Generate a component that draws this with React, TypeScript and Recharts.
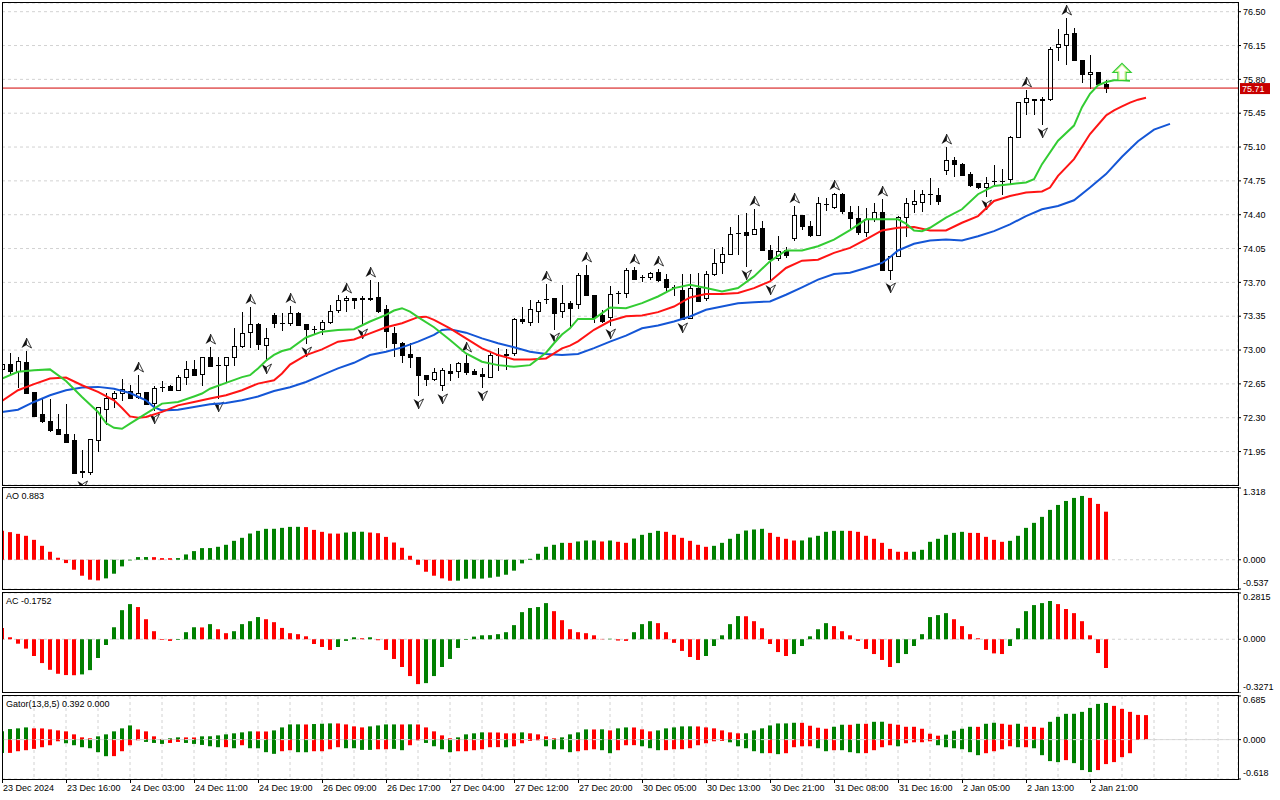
import React from 'react';
import {
  ComposedChart,
  Bar,
  Line,
  XAxis,
  YAxis,
  CartesianGrid,
  ReferenceLine,
  ReferenceDot,
  Cell,
} from 'recharts';

const FONT = '"Liberation Sans", Arial, Helvetica, sans-serif';
const GREEN = '#008000';
const RED = '#ff0000';
const GRID = '#d2d2d2';
const JAW = '#1456d6';
const TEETH = '#ff1414';
const LIPS = '#33cc33';

// ---------- data ----------
const timeLabels = [
  '23 Dec 2024', '23 Dec 16:00', '24 Dec 03:00', '24 Dec 11:00', '24 Dec 19:00', '26 Dec 09:00',
  '26 Dec 17:00', '27 Dec 04:00', '27 Dec 12:00', '27 Dec 20:00', '30 Dec 05:00', '30 Dec 13:00',
  '30 Dec 21:00', '31 Dec 08:00', '31 Dec 16:00', '2 Jan 05:00', '2 Jan 13:00', '2 Jan 21:00',
];

const priceTicks = [71.95, 72.3, 72.65, 73.0, 73.35, 73.7, 74.05, 74.4, 74.75, 75.1, 75.45, 75.8, 76.15, 76.5];
const lastPrice = 75.71;
const signalBar = 140;
const signalPrice = 75.79;

// open, high, low, close — one per hourly bar
const candles: [number, number, number, number][] = [
  [72.80, 72.90, 72.76, 72.86], [72.86, 72.965, 72.74, 72.785], [72.785, 72.924, 72.62, 72.882], [72.875, 72.993, 72.556, 72.556],
  [72.57, 72.57, 72.317, 72.317], [72.335, 72.498, 72.255, 72.262], [72.269, 72.498, 72.161, 72.168], [72.179, 72.342, 72.127, 72.127],
  [72.127, 72.439, 72.047, 72.047], [72.071, 72.134, 71.732, 71.732], [71.745, 71.967, 71.683, 71.74], [71.739, 72.075, 71.718, 72.075],
  [72.071, 72.411, 71.96, 72.411], [72.394, 72.56, 72.238, 72.508], [72.508, 72.577, 72.411, 72.56], [72.56, 72.705, 72.48, 72.60],
  [72.577, 72.636, 72.508, 72.508], [72.515, 72.74, 72.508, 72.56], [72.57, 72.57, 72.439, 72.439], [72.453, 72.626, 72.376, 72.605],
  [72.619, 72.681, 72.577, 72.621], [72.626, 72.636, 72.584, 72.584], [72.591, 72.74, 72.584, 72.723], [72.723, 72.889, 72.653, 72.799],
  [72.799, 72.896, 72.74, 72.74], [72.75, 72.931, 72.636, 72.924], [72.924, 73.028, 72.834, 72.834], [72.844, 72.931, 72.50, 72.846],
  [72.844, 72.924, 72.67, 72.924], [72.924, 73.225, 72.844, 73.042], [73.042, 73.398, 73.035, 73.173], [73.187, 73.45, 73.035, 73.267],
  [73.267, 73.277, 73.007, 73.062], [73.052, 73.225, 72.896, 73.121], [73.364, 73.381, 73.243, 73.277], [73.28, 73.381, 73.208, 73.284],
  [73.277, 73.457, 73.256, 73.388], [73.388, 73.398, 73.256, 73.26], [73.27, 73.27, 73.076, 73.215], [73.215, 73.25, 73.18, 73.218],
  [73.215, 73.312, 73.166, 73.291], [73.291, 73.468, 73.277, 73.409], [73.416, 73.572, 73.398, 73.52], [73.52, 73.561, 73.409, 73.54],
  [73.537, 73.537, 73.433, 73.52], [73.533, 73.554, 73.26, 73.536], [73.53, 73.72, 73.52, 73.54], [73.547, 73.70, 73.398, 73.409],
  [73.423, 73.468, 73.035, 73.201], [73.18, 73.243, 72.938, 73.076], [73.069, 73.087, 72.879, 72.948], [72.955, 73.069, 72.82, 72.924],
  [72.924, 72.924, 72.532, 72.74], [72.74, 72.74, 72.636, 72.705], [72.705, 72.81, 72.688, 72.775], [72.636, 72.81, 72.584, 72.792],
  [72.785, 72.854, 72.688, 72.764], [72.785, 72.879, 72.723, 72.868], [72.868, 72.948, 72.757, 72.775], [72.782, 72.80, 72.75, 72.757],
  [72.75, 72.81, 72.62, 72.73], [72.723, 72.965, 72.723, 72.948], [72.95, 73.017, 72.792, 72.952], [72.95, 73.01, 72.80, 72.96],
  [72.965, 73.329, 72.948, 73.319], [73.319, 73.45, 73.277, 73.30], [73.295, 73.52, 73.26, 73.423], [73.409, 73.52, 73.295, 73.502],
  [73.527, 73.686, 73.485, 73.529], [73.537, 73.537, 73.215, 73.381], [73.409, 73.676, 73.34, 73.485], [73.485, 73.509, 73.243, 73.433],
  [73.475, 73.797, 73.44, 73.78], [73.773, 73.88, 73.565, 73.565], [73.565, 73.565, 73.295, 73.347], [73.364, 73.416, 73.295, 73.30],
  [73.347, 73.658, 73.26, 73.579], [73.59, 73.613, 73.485, 73.592], [73.59, 73.849, 73.544, 73.832], [73.832, 73.86, 73.738, 73.738],
  [73.752, 73.78, 73.71, 73.754], [73.752, 73.807, 73.738, 73.797], [73.807, 73.84, 73.717, 73.728], [73.738, 73.787, 73.624, 73.648],
  [73.648, 73.675, 73.565, 73.65], [73.624, 73.787, 73.322, 73.322], [73.336, 73.787, 73.336, 73.641], [73.641, 73.797, 73.509, 73.509],
  [73.537, 73.814, 73.52, 73.787], [73.787, 74.05, 73.78, 73.90], [73.911, 74.064, 73.797, 73.994], [73.994, 74.27, 73.99, 74.20],
  [74.21, 74.396, 73.99, 74.212], [74.22, 74.42, 73.866, 74.195], [74.20, 74.455, 74.20, 74.247], [74.258, 74.334, 74.03, 74.03],
  [74.04, 74.09, 73.717, 73.946], [73.953, 74.18, 73.935, 74.022], [74.03, 74.064, 73.96, 73.988], [74.154, 74.49, 74.14, 74.396],
  [74.396, 74.396, 74.247, 74.282], [74.282, 74.334, 74.178, 74.188], [74.188, 74.584, 74.188, 74.525], [74.51, 74.57, 74.445, 74.512],
  [74.48, 74.628, 74.473, 74.618], [74.61, 74.629, 74.42, 74.435], [74.431, 74.49, 74.265, 74.369], [74.362, 74.49, 74.196, 74.224],
  [74.224, 74.473, 74.178, 74.352], [74.352, 74.525, 74.334, 74.431], [74.431, 74.56, 73.832, 73.832], [73.832, 73.97, 73.738, 73.97],
  [73.97, 74.386, 73.97, 74.376], [74.376, 74.577, 74.178, 74.525], [74.515, 74.653, 74.431, 74.542], [74.535, 74.653, 74.438, 74.612],
  [74.612, 74.778, 74.508, 74.61], [74.605, 74.674, 74.508, 74.542], [74.861, 75.097, 74.826, 74.965], [74.965, 75.0, 74.802, 74.923],
  [74.923, 74.93, 74.81, 74.81], [74.826, 74.837, 74.698, 74.709], [74.733, 74.733, 74.674, 74.688], [74.691, 74.785, 74.594, 74.726],
  [74.744, 74.916, 74.709, 74.746], [74.75, 74.87, 74.61, 74.752], [74.767, 75.218, 74.722, 75.208], [75.208, 75.565, 75.208, 75.565],
  [75.565, 75.686, 75.443, 75.61], [75.60, 75.60, 75.443, 75.582], [75.582, 75.617, 75.34, 75.60], [75.596, 76.13, 75.589, 76.119],
  [76.13, 76.316, 76.005, 76.164], [76.153, 76.43, 75.956, 76.268], [76.275, 76.327, 76.005, 76.005], [76.005, 76.005, 75.772, 75.852],
  [75.852, 76.05, 75.713, 75.876], [75.876, 75.876, 75.755, 75.755], [75.748, 75.796, 75.668, 75.71],
];

const fractalUp = [3, 17, 26, 31, 36, 43, 46, 58, 68, 73, 79, 82, 94, 99, 104, 110, 118, 128, 133];
const fractalDown = [10, 19, 27, 33, 38, 45, 52, 55, 60, 69, 76, 85, 93, 96, 111, 123, 130];

// Alligator lines: [bar, price]
const jaw: [number, number][] = [
  [0, 72.359], [2, 72.383], [4, 72.463], [6, 72.532], [8, 72.584], [10, 72.612], [12, 72.619], [14, 72.6], [16, 72.556],
  [18, 72.48], [19, 72.41], [20, 72.376], [22, 72.383], [24, 72.41], [26, 72.44], [28, 72.453], [30, 72.48], [32, 72.52],
  [34, 72.577], [36, 72.615], [38, 72.67], [40, 72.74], [42, 72.81], [44, 72.868], [46, 72.948], [48, 72.983], [50, 73.028],
  [52, 73.087], [54, 73.156], [55, 73.208], [56, 73.215], [58, 73.18], [60, 73.121], [62, 73.07], [64, 73.028], [66, 72.983],
  [68, 72.958], [70, 72.948], [72, 72.96], [74, 73.02], [76, 73.087], [78, 73.149], [80, 73.225], [82, 73.253], [84, 73.295],
  [86, 73.347], [88, 73.416], [90, 73.45], [92, 73.485], [94, 73.495], [96, 73.502], [98, 73.572], [100, 73.648], [102, 73.728],
  [104, 73.787], [106, 73.8], [108, 73.849], [110, 73.901], [111, 73.96], [112, 74.03], [114, 74.099], [116, 74.133],
  [118, 74.144], [120, 74.133], [122, 74.178], [124, 74.23], [126, 74.3], [128, 74.386], [130, 74.456], [132, 74.49],
  [134, 74.549], [136, 74.681], [138, 74.82], [140, 75.0], [142, 75.16], [144, 75.28], [146, 75.34],
];
const teeth: [number, number][] = [
  [0, 72.473], [2, 72.584], [4, 72.647], [6, 72.705], [8, 72.716], [10, 72.636], [12, 72.567], [14, 72.48], [15, 72.4],
  [16, 72.314], [17, 72.3], [18, 72.307], [20, 72.36], [22, 72.428], [24, 72.463], [26, 72.498], [28, 72.532], [30, 72.584],
  [32, 72.653], [34, 72.688], [35, 72.757], [36, 72.85], [38, 72.948], [40, 73.007], [42, 73.087], [44, 73.11], [46, 73.173],
  [48, 73.236], [50, 73.277], [52, 73.34], [53, 73.345], [54, 73.312], [56, 73.225], [58, 73.121], [60, 73.017], [62, 72.948],
  [64, 72.903], [66, 72.903], [68, 72.913], [70, 73.017], [71, 73.045], [72, 73.09], [74, 73.21], [76, 73.3], [78, 73.35],
  [80, 73.357], [82, 73.392], [84, 73.45], [86, 73.544], [88, 73.579], [90, 73.579], [92, 73.59], [94, 73.641], [96, 73.71],
  [98, 73.849], [100, 73.925], [102, 73.935], [104, 74.005], [106, 74.057], [108, 74.144], [110, 74.237], [112, 74.265],
  [114, 74.272], [116, 74.237], [118, 74.237], [120, 74.317], [122, 74.386], [124, 74.542], [126, 74.594], [128, 74.629],
  [130, 74.64], [131, 74.681], [132, 74.802], [134, 74.975], [136, 75.235], [138, 75.426], [139, 75.48], [140, 75.52],
  [141, 75.56], [142, 75.59], [143, 75.61],
];
const lips: [number, number][] = [
  [0, 72.705], [2, 72.775], [4, 72.79], [6, 72.8], [8, 72.68], [10, 72.515], [12, 72.36], [13, 72.245], [14, 72.196],
  [15, 72.186], [16, 72.238], [18, 72.342], [20, 72.446], [22, 72.463], [24, 72.52], [25, 72.55], [26, 72.6], [28, 72.66],
  [30, 72.72], [31, 72.74], [32, 72.81], [33, 72.89], [34, 72.95], [35, 72.99], [36, 73.01], [38, 73.13], [40, 73.19],
  [42, 73.208], [44, 73.215], [46, 73.295], [48, 73.364], [49, 73.409], [50, 73.433], [51, 73.398], [52, 73.34], [54, 73.236],
  [56, 73.104], [58, 72.965], [60, 72.879], [62, 72.844], [64, 72.827], [66, 72.844], [68, 72.972], [69, 73.07], [70, 73.16],
  [71, 73.225], [72, 73.322], [74, 73.322], [76, 73.44], [78, 73.433], [80, 73.485], [82, 73.554], [84, 73.641], [86, 73.676],
  [88, 73.641], [90, 73.606], [92, 73.641], [94, 73.762], [96, 73.918], [98, 74.03], [100, 74.03], [102, 74.074], [104, 74.143],
  [106, 74.24], [108, 74.352], [110, 74.352], [112, 74.352], [113, 74.307], [114, 74.237], [115, 74.23], [116, 74.265],
  [118, 74.369], [120, 74.456], [122, 74.612], [124, 74.698], [126, 74.716], [128, 74.733], [129, 74.767], [130, 74.923],
  [132, 75.166], [134, 75.322], [135, 75.512], [136, 75.651], [137, 75.738], [138, 75.772], [139, 75.79], [140, 75.79],
  [141, 75.786],
];

// Awesome Oscillator: [value, colour]
const ao: [number, string][] = [
  [0.531, 'r'], [0.507, 'r'], [0.476, 'r'], [0.44, 'r'], [0.366, 'r'], [0.256, 'r'], [0.147, 'r'], [0.037, 'r'], [-0.061, 'r'], [-0.183, 'r'],
  [-0.293, 'r'], [-0.366, 'r'], [-0.379, 'r'], [-0.342, 'g'], [-0.256, 'g'], [-0.122, 'g'], [-0.012, 'g'], [0.049, 'g'], [0.05, 'g'], [0.048, 'r'],
  [0.03, 'r'], [0.029, 'r'], [0.031, 'g'], [0.098, 'g'], [0.159, 'g'], [0.214, 'g'], [0.215, 'g'], [0.238, 'g'], [0.275, 'g'], [0.348, 'g'],
  [0.403, 'g'], [0.482, 'g'], [0.531, 'g'], [0.568, 'g'], [0.569, 'g'], [0.586, 'g'], [0.604, 'g'], [0.605, 'g'], [0.6, 'r'], [0.549, 'r'],
  [0.513, 'r'], [0.482, 'r'], [0.48, 'r'], [0.5, 'g'], [0.513, 'g'], [0.515, 'g'], [0.5, 'r'], [0.488, 'r'], [0.42, 'r'], [0.317, 'r'],
  [0.22, 'r'], [0.073, 'r'], [-0.092, 'r'], [-0.22, 'r'], [-0.293, 'r'], [-0.342, 'r'], [-0.385, 'r'], [-0.384, 'g'], [-0.348, 'g'], [-0.347, 'g'],
  [-0.346, 'g'], [-0.33, 'g'], [-0.311, 'g'], [-0.275, 'g'], [-0.2, 'g'], [-0.067, 'g'], [0.018, 'g'], [0.11, 'g'], [0.238, 'g'], [0.275, 'g'],
  [0.311, 'g'], [0.31, 'r'], [0.336, 'g'], [0.354, 'g'], [0.355, 'g'], [0.336, 'r'], [0.354, 'g'], [0.33, 'r'], [0.311, 'r'], [0.39, 'g'],
  [0.458, 'g'], [0.494, 'g'], [0.531, 'g'], [0.513, 'r'], [0.458, 'r'], [0.403, 'r'], [0.348, 'r'], [0.275, 'r'], [0.238, 'r'], [0.256, 'g'],
  [0.311, 'g'], [0.385, 'g'], [0.476, 'g'], [0.537, 'g'], [0.556, 'g'], [0.568, 'g'], [0.494, 'r'], [0.421, 'r'], [0.385, 'r'], [0.354, 'r'],
  [0.355, 'g'], [0.409, 'g'], [0.44, 'g'], [0.513, 'g'], [0.531, 'g'], [0.532, 'g'], [0.531, 'r'], [0.513, 'r'], [0.44, 'r'], [0.385, 'r'],
  [0.311, 'r'], [0.2, 'r'], [0.147, 'r'], [0.146, 'r'], [0.147, 'g'], [0.183, 'g'], [0.33, 'g'], [0.385, 'g'], [0.458, 'g'], [0.494, 'g'],
  [0.513, 'g'], [0.494, 'r'], [0.493, 'r'], [0.421, 'r'], [0.366, 'r'], [0.33, 'r'], [0.348, 'g'], [0.44, 'g'], [0.586, 'g'], [0.678, 'g'],
  [0.788, 'g'], [0.916, 'g'], [1.007, 'g'], [1.08, 'g'], [1.136, 'g'], [1.172, 'g'], [1.136, 'r'], [1.026, 'r'], [0.883, 'r'],
];

// Accelerator Oscillator: [value, colour]
const ac: [number, string][] = [
  [0.069, 'r'], [0.012, 'r'], [-0.027, 'r'], [-0.057, 'r'], [-0.102, 'r'], [-0.145, 'r'], [-0.186, 'r'], [-0.21, 'r'], [-0.218, 'r'], [-0.219, 'r'],
  [-0.214, 'g'], [-0.188, 'g'], [-0.114, 'g'], [-0.035, 'g'], [0.073, 'g'], [0.177, 'g'], [0.214, 'g'], [0.196, 'r'], [0.122, 'r'], [0.049, 'r'],
  [-0.004, 'r'], [-0.01, 'r'], [-0.004, 'g'], [0.043, 'g'], [0.073, 'g'], [0.072, 'r'], [0.092, 'g'], [0.061, 'r'], [0.037, 'r'], [0.049, 'g'],
  [0.092, 'g'], [0.11, 'g'], [0.135, 'g'], [0.122, 'r'], [0.104, 'r'], [0.069, 'r'], [0.037, 'r'], [0.031, 'r'], [0.018, 'r'], [-0.029, 'r'],
  [-0.047, 'r'], [-0.065, 'r'], [-0.047, 'g'], [-0.01, 'g'], [0.012, 'g'], [0.006, 'r'], [0.012, 'g'], [-0.006, 'r'], [-0.065, 'r'], [-0.12, 'r'],
  [-0.169, 'r'], [-0.224, 'r'], [-0.273, 'r'], [-0.267, 'g'], [-0.224, 'g'], [-0.169, 'g'], [-0.12, 'g'], [-0.053, 'g'], [-0.004, 'g'], [0.016, 'g'],
  [0.024, 'g'], [0.025, 'g'], [0.031, 'g'], [0.043, 'g'], [0.086, 'g'], [0.165, 'g'], [0.19, 'g'], [0.196, 'g'], [0.22, 'g'], [0.171, 'r'],
  [0.116, 'r'], [0.061, 'r'], [0.043, 'r'], [0.037, 'r'], [0.024, 'r'], [0.002, 'r'], [0.003, 'g'], [-0.008, 'r'], [-0.01, 'r'], [0.043, 'g'],
  [0.092, 'g'], [0.11, 'g'], [0.098, 'r'], [0.043, 'r'], [-0.022, 'r'], [-0.071, 'r'], [-0.108, 'r'], [-0.126, 'r'], [-0.102, 'g'], [-0.041, 'g'],
  [0.024, 'g'], [0.092, 'g'], [0.141, 'g'], [0.14, 'r'], [0.11, 'r'], [0.067, 'r'], [-0.029, 'r'], [-0.078, 'r'], [-0.102, 'r'], [-0.09, 'g'],
  [-0.041, 'g'], [0.018, 'g'], [0.061, 'g'], [0.098, 'g'], [0.08, 'r'], [0.049, 'r'], [0.024, 'r'], [-0.01, 'r'], [-0.059, 'r'], [-0.09, 'r'],
  [-0.126, 'r'], [-0.169, 'r'], [-0.145, 'g'], [-0.09, 'g'], [-0.041, 'g'], [0.031, 'g'], [0.135, 'g'], [0.147, 'g'], [0.159, 'g'], [0.122, 'r'],
  [0.08, 'r'], [0.031, 'r'], [0.006, 'r'], [-0.065, 'r'], [-0.086, 'r'], [-0.09, 'r'], [-0.041, 'g'], [0.067, 'g'], [0.171, 'g'], [0.208, 'g'],
  [0.22, 'g'], [0.233, 'g'], [0.214, 'r'], [0.184, 'r'], [0.159, 'r'], [0.11, 'r'], [0.024, 'r'], [-0.084, 'r'], [-0.175, 'r'],
];

// Gator: [upper, colour, lower, colour]
const gator: [number, string, number | null, string][] = [
  [0.13, 'g', -0.208, 'g'], [0.166, 'g', -0.208, 'r'], [0.177, 'g', -0.182, 'r'], [0.192, 'g', -0.166, 'r'], [0.177, 'r', -0.145, 'r'],
  [0.176, 'r', -0.119, 'r'], [0.161, 'r', -0.088, 'r'], [0.145, 'r', -0.026, 'r'], [0.13, 'r', -0.057, 'g'], [0.083, 'r', -0.088, 'g'],
  [0.036, 'r', -0.119, 'g'], [0.021, 'r', -0.135, 'g'], [0.052, 'g', -0.197, 'g'], [0.083, 'g', -0.26, 'g'], [0.13, 'g', -0.259, 'r'],
  [0.177, 'g', -0.182, 'r'], [0.223, 'g', -0.088, 'r'], [0.16, 'r', -0.01, 'r'], [0.13, 'r', -0.036, 'g'], [0.052, 'r', -0.052, 'g'],
  [0.01, 'r', -0.067, 'g'], [0.021, 'g', -0.052, 'r'], [0.036, 'g', -0.036, 'r'], [0.035, 'r', -0.052, 'g'], [0.034, 'r', -0.067, 'g'],
  [0.052, 'g', -0.083, 'g'], [0.053, 'g', -0.104, 'g'], [0.067, 'g', -0.119, 'g'], [0.083, 'g', -0.118, 'r'], [0.099, 'g', -0.135, 'g'],
  [0.114, 'g', -0.088, 'r'], [0.13, 'g', -0.135, 'g'], [0.129, 'r', -0.136, 'g'], [0.128, 'r', -0.197, 'g'], [0.145, 'g', -0.223, 'g'],
  [0.192, 'g', -0.182, 'r'], [0.239, 'g', -0.166, 'r'], [0.24, 'g', -0.197, 'g'], [0.238, 'r', -0.198, 'g'], [0.245, 'g', -0.182, 'r'],
  [0.25, 'g', -0.182, 'r'], [0.255, 'g', -0.151, 'r'], [0.254, 'r', -0.119, 'r'], [0.239, 'r', -0.135, 'g'], [0.208, 'r', -0.135, 'g'],
  [0.192, 'r', -0.161, 'g'], [0.208, 'g', -0.161, 'g'], [0.223, 'g', -0.151, 'r'], [0.239, 'g', -0.151, 'r'], [0.239, 'g', -0.145, 'g'],
  [0.238, 'r', -0.166, 'g'], [0.24, 'g', -0.088, 'r'], [0.238, 'r', -0.01, 'r'], [0.192, 'r', -0.052, 'g'], [0.13, 'r', -0.104, 'g'],
  [0.067, 'r', -0.151, 'g'], [0.021, 'r', -0.197, 'g'], [0.036, 'g', -0.182, 'r'], [0.083, 'g', -0.182, 'r'], [0.099, 'g', -0.166, 'r'],
  [0.114, 'g', -0.151, 'r'], [0.113, 'r', -0.119, 'r'], [0.112, 'r', -0.118, 'r'], [0.099, 'r', -0.12, 'g'], [0.098, 'r', -0.104, 'r'],
  [0.114, 'g', -0.057, 'r'], [0.099, 'r', -0.02, 'r'], [0.083, 'r', -0.01, 'r'], [0.052, 'r', -0.104, 'g'], [0.021, 'r', -0.151, 'g'],
  [0.036, 'g', -0.152, 'g'], [0.083, 'g', -0.197, 'g'], [0.114, 'g', -0.182, 'r'], [0.161, 'g', -0.166, 'r'], [0.16, 'r', -0.151, 'r'],
  [0.162, 'g', -0.166, 'g'], [0.145, 'r', -0.213, 'g'], [0.177, 'g', -0.166, 'r'], [0.192, 'g', -0.088, 'r'], [0.191, 'r', -0.087, 'r'],
  [0.161, 'r', -0.104, 'g'], [0.13, 'r', -0.135, 'g'], [0.145, 'g', -0.166, 'g'], [0.177, 'g', -0.165, 'r'], [0.192, 'g', -0.151, 'r'],
  [0.208, 'g', -0.15, 'r'], [0.209, 'g', -0.135, 'r'], [0.207, 'r', -0.088, 'r'], [0.192, 'r', -0.057, 'r'], [0.177, 'r', -0.026, 'r'],
  [0.145, 'r', -0.02, 'r'], [0.114, 'r', -0.042, 'g'], [0.099, 'r', -0.104, 'g'], [0.1, 'g', -0.135, 'g'], [0.145, 'g', -0.182, 'g'],
  [0.177, 'g', -0.213, 'g'], [0.223, 'g', -0.212, 'r'], [0.254, 'g', -0.228, 'g'], [0.255, 'g', -0.213, 'r'], [0.265, 'g', -0.119, 'r'],
  [0.264, 'r', -0.104, 'r'], [0.218, 'r', -0.104, 'r'], [0.187, 'r', -0.135, 'g'], [0.171, 'r', -0.182, 'g'], [0.202, 'g', -0.166, 'r'],
  [0.234, 'g', -0.166, 'g'], [0.233, 'r', -0.197, 'g'], [0.249, 'g', -0.213, 'g'], [0.249, 'r', -0.212, 'r'], [0.28, 'g', -0.166, 'r'],
  [0.281, 'g', -0.119, 'r'], [0.249, 'r', -0.088, 'r'], [0.234, 'r', -0.104, 'g'], [0.202, 'r', -0.057, 'r'], [0.202, 'r', -0.042, 'r'],
  [0.171, 'r', -0.041, 'r'], [0.093, 'r', -0.026, 'r'], [0.062, 'r', -0.088, 'g'], [0.078, 'g', -0.119, 'g'], [0.14, 'g', -0.135, 'g'],
  [0.171, 'g', -0.151, 'g'], [0.202, 'g', -0.197, 'g'], [0.201, 'r', -0.244, 'g'], [0.249, 'g', -0.213, 'r'], [0.265, 'g', -0.182, 'r'],
  [0.249, 'r', -0.151, 'r'], [0.234, 'r', -0.104, 'r'], [0.249, 'g', -0.119, 'g'], [0.202, 'r', -0.119, 'r'], [0.201, 'r', -0.135, 'g'],
  [0.187, 'r', -0.244, 'g'], [0.28, 'g', -0.337, 'g'], [0.358, 'g', -0.353, 'g'], [0.405, 'g', -0.322, 'r'], [0.406, 'g', -0.369, 'g'],
  [0.436, 'g', -0.478, 'g'], [0.498, 'g', -0.509, 'g'], [0.561, 'g', -0.478, 'r'], [0.576, 'g', -0.384, 'r'], [0.53, 'r', -0.353, 'r'],
  [0.483, 'r', -0.275, 'r'], [0.436, 'r', -0.213, 'r'], [0.389, 'r', null, ''], [0.385, 'r', null, ''],
];

const aoTicks = [-0.537, 0, 1.318];
const acTicks = [-0.3271, 0, 0.2815];
const gatorTicks = [-0.618, 0, 0.685];

// ---------- tables built from the arrays ----------
const X_DOMAIN: [number, number] = [0, 154.5];
const MAIN_DOMAIN: [number, number] = [71.604, 76.59];
const gridKs = Array.from({ length: 39 }, (_, i) => i * 4);

const mainRows: any[] = Array.from({ length: 147 }, (_, k) => {
  const row: any = { k };
  const c = candles[k];
  if (c) {
    row.o = c[0]; row.h = c[1]; row.l = c[2]; row.c = c[3];
    row.range = [c[2], c[1]];
    row.fu = fractalUp.includes(k);
    row.fd = fractalDown.includes(k);
  }
  return row;
});
jaw.forEach(([k, v]) => { mainRows[k].jaw = v; });
teeth.forEach(([k, v]) => { mainRows[k].teeth = v; });
lips.forEach(([k, v]) => { mainRows[k].lips = v; });

const aoRows = ao.map(([v, c], k) => ({ k, v, c }));
const acRows = ac.map(([v, c], k) => ({ k, v, c }));
const gatorRows = gator.map(([u, uc, d, dc], k) => ({ k, up: u, uc, dn: d == null ? undefined : d, dc }));

// ---------- shapes ----------
const FractalUp = ({ cx, y }: { cx: number; y: number }) => (
  <g>
    <path d={`M${cx},${y - 10} L${cx - 5},${y} L${cx},${y - 3} Z`} fill="#111" />
    <path d={`M${cx},${y - 10} L${cx + 5},${y} L${cx},${y - 3} Z`} fill="#fff" stroke="#222" strokeWidth={0.9} />
  </g>
);
const FractalDown = ({ cx, y }: { cx: number; y: number }) => (
  <g>
    <path d={`M${cx},${y + 10} L${cx - 5},${y} L${cx},${y + 3} Z`} fill="#111" />
    <path d={`M${cx},${y + 10} L${cx + 5},${y} L${cx},${y + 3} Z`} fill="#fff" stroke="#222" strokeWidth={0.9} />
  </g>
);

const CandleShape = (props: any) => {
  const { x, y, width, height, payload } = props;
  if (!payload || payload.o == null || x == null || y == null || isNaN(y) || isNaN(height)) return <g />;
  const cx = Math.round(x + width / 2);
  const top = Math.min(y, y + height);
  const bot = Math.max(y, y + height);
  const { o, h, l, c } = payload;
  const span = h - l;
  const toY = (p: number) => (span > 0 ? top + ((h - p) / span) * (bot - top) : top);
  const yo = toY(o);
  const yc = toY(c);
  const bTop = Math.round(Math.min(yo, yc));
  const bBot = Math.round(Math.max(yo, yc));
  const bull = c >= o;
  const wx = cx + 0.5;
  const t = Math.round(top);
  const b = Math.round(bot);
  return (
    <g>
      <line x1={wx} x2={wx} y1={t} y2={b + 1} stroke="#000" strokeWidth={1} />
      {bBot - bTop < 1 ? (
        <line x1={cx - 2} x2={cx + 3} y1={bTop + 0.5} y2={bTop + 0.5} stroke="#000" strokeWidth={1} />
      ) : (
        <rect x={cx - 1.5} y={bTop + 0.5} width={4} height={bBot - bTop} fill={bull ? '#fff' : '#000'} stroke="#000" strokeWidth={1} />
      )}
      {payload.fu ? <FractalUp cx={wx} y={t - 3} /> : null}
      {payload.fd ? <FractalDown cx={wx} y={b + 4} /> : null}
    </g>
  );
};

const SignalArrow = (props: any) => {
  const { cx, cy } = props;
  if (cx == null || cy == null) return <g />;
  const pts = [
    [cx, cy - 17], [cx + 9, cy - 8], [cx + 4, cy - 8], [cx + 4, cy], [cx - 4, cy], [cx - 4, cy - 8], [cx - 9, cy - 8],
  ].map((p) => p.join(',')).join(' ');
  const inner = [
    [cx, cy - 15], [cx + 6.5, cy - 9], [cx + 3, cy - 9], [cx + 3, cy - 1], [cx - 3, cy - 1], [cx - 3, cy - 9], [cx - 6.5, cy - 9],
  ].map((p) => p.join(',')).join(' ');
  return (
    <g>
      <polygon points={pts} fill="#ffffff" stroke="#33cc33" strokeWidth={1.3} />
      <polygon points={inner} fill="none" stroke="#d6f28a" strokeWidth={1} />
    </g>
  );
};

const PriceTag = (props: any) => {
  const vb = props.viewBox || {};
  const x = (vb.x || 0) + (vb.width || 0);
  const y = vb.y || 0;
  return (
    <g>
      <rect x={x + 2} y={y - 5} width={30} height={11} fill="#c80000" />
      <text x={x + 4} y={y + 3.5} fontSize={9} fontFamily={FONT} fill="#fff">
        {lastPrice.toFixed(2)}
      </text>
    </g>
  );
};

const makeYTick = (fmt: (v: number) => string, min: number, max: number) => (p: any) => {
  const v = p.payload.value;
  let dy = 3.2;
  if (Math.abs(v - max) < 1e-9) dy += 4;
  if (Math.abs(v - min) < 1e-9) dy -= 6;
  return (
    <text x={p.x} y={p.y + dy} fontSize={9} fontFamily={FONT} fill="#000" textAnchor="start">
      {fmt(v)}
    </text>
  );
};

const XTick = (p: any) => {
  const k = p.payload.value;
  if (k % 8 !== 0) return <g />;
  const label = timeLabels[k / 8];
  if (!label) return <g />;
  const x = Math.round(p.x);
  return (
    <g>
      <line x1={x + 0.5} x2={x + 0.5} y1={p.y + 1} y2={p.y + 4} stroke="#000" />
      <text x={x + 1} y={p.y + 12} fontSize={9} fontFamily={FONT} fill="#000" textAnchor="start">
        {label}
      </text>
    </g>
  );
};

const hiddenX = (
  <XAxis dataKey="k" type="number" domain={X_DOMAIN} ticks={gridKs} allowDataOverflow tick={false} tickLine={false} axisLine={false} height={0} />
);

const yCommon = {
  orientation: 'right' as const,
  width: 42,
  tickSize: 3,
  tickMargin: 2,
  axisLine: false,
  tickLine: { stroke: '#000' },
  allowDataOverflow: true,
  interval: 0 as const,
};

export default function App() {
  return (
    <div style={{ position: 'absolute', left: 0, top: 0, width: 1280, height: 800, background: '#fff', overflow: 'hidden' }}>
      <style>{'body{margin:0;background:#fff}'}</style>

      {/* main price panel */}
      <div style={{ position: 'absolute', left: 0, top: 0 }}>
        <ComposedChart width={1280} height={486} data={mainRows} margin={{ top: 3, right: 0, bottom: 1, left: 2 }}>
          <CartesianGrid stroke={GRID} strokeDasharray="3 3" />
          {hiddenX}
          <YAxis
            {...yCommon}
            domain={MAIN_DOMAIN}
            ticks={priceTicks}
            tick={makeYTick((v) => v.toFixed(2), MAIN_DOMAIN[0], MAIN_DOMAIN[1])}
          />
          <ReferenceLine y={lastPrice} stroke="#d20000" strokeWidth={1} label={<PriceTag />} />
          <Bar dataKey="range" barSize={8} shape={CandleShape} isAnimationActive={false} />
          <Line type="linear" dataKey="jaw" stroke={JAW} strokeWidth={2} dot={false} connectNulls isAnimationActive={false} />
          <Line type="linear" dataKey="teeth" stroke={TEETH} strokeWidth={2} dot={false} connectNulls isAnimationActive={false} />
          <Line type="linear" dataKey="lips" stroke={LIPS} strokeWidth={2} dot={false} connectNulls isAnimationActive={false} />
          <ReferenceDot x={signalBar} y={signalPrice} r={0} shape={SignalArrow} />
        </ComposedChart>
      </div>

      {/* AO */}
      <div style={{ position: 'absolute', left: 0, top: 487 }}>
        <ComposedChart width={1280} height={103} data={aoRows} margin={{ top: 1, right: 0, bottom: 1, left: 2 }}>
          <CartesianGrid stroke={GRID} strokeDasharray="3 3" />
          {hiddenX}
          <YAxis {...yCommon} domain={[aoTicks[0], aoTicks[2]]} ticks={aoTicks} tick={makeYTick((v) => v.toFixed(3), aoTicks[0], aoTicks[2])} />
          <Bar dataKey="v" barSize={4} isAnimationActive={false}>
            {aoRows.map((r) => (
              <Cell key={r.k} fill={r.c === 'g' ? GREEN : RED} />
            ))}
          </Bar>
        </ComposedChart>
      </div>

      {/* AC */}
      <div style={{ position: 'absolute', left: 0, top: 592 }}>
        <ComposedChart width={1280} height={101} data={acRows} margin={{ top: 1, right: 0, bottom: 0, left: 2 }}>
          <CartesianGrid stroke={GRID} strokeDasharray="3 3" />
          {hiddenX}
          <YAxis
            {...yCommon}
            domain={[acTicks[0], acTicks[2]]}
            ticks={acTicks}
            tick={makeYTick((v) => (v === 0 ? '0.000' : v.toFixed(4)), acTicks[0], acTicks[2])}
          />
          <Bar dataKey="v" barSize={4} isAnimationActive={false}>
            {acRows.map((r) => (
              <Cell key={r.k} fill={r.c === 'g' ? GREEN : RED} />
            ))}
          </Bar>
        </ComposedChart>
      </div>

      {/* Gator */}
      <div style={{ position: 'absolute', left: 0, top: 695 }}>
        <ComposedChart width={1280} height={105} data={gatorRows} stackOffset="sign" margin={{ top: 1, right: 0, bottom: 0, left: 2 }}>
          <CartesianGrid stroke={GRID} strokeDasharray="3 3" />
          <XAxis
            dataKey="k"
            type="number"
            domain={X_DOMAIN}
            ticks={gridKs}
            allowDataOverflow
            interval={0}
            tick={XTick}
            tickLine={false}
            axisLine={false}
            tickSize={0}
            tickMargin={0}
            height={21}
          />
          <YAxis
            {...yCommon}
            domain={[gatorTicks[0], gatorTicks[2]]}
            ticks={gatorTicks}
            tick={makeYTick((v) => v.toFixed(3), gatorTicks[0], gatorTicks[2])}
          />
          <Bar dataKey="up" stackId="g" barSize={4} isAnimationActive={false}>
            {gatorRows.map((r) => (
              <Cell key={r.k} fill={r.uc === 'g' ? GREEN : RED} />
            ))}
          </Bar>
          <Bar dataKey="dn" stackId="g" barSize={4} isAnimationActive={false}>
            {gatorRows.map((r) => (
              <Cell key={r.k} fill={r.dc === 'g' ? GREEN : RED} />
            ))}
          </Bar>
          <ReferenceLine y={0} stroke="#dcdcdc" strokeDasharray="3 3" />
        </ComposedChart>
      </div>

      {/* frames and panel captions */}
      <svg width={1280} height={800} style={{ position: 'absolute', left: 0, top: 0, pointerEvents: 'none' }}>
        <rect x={0} y={0} width={2} height={800} fill="#fff" />
        <rect x={2.5} y={2.5} width={1236} height={483} fill="none" stroke="#000" strokeWidth={1} />
        <rect x={2.5} y={487.5} width={1236} height={102} fill="none" stroke="#000" strokeWidth={1} />
        <rect x={2.5} y={592.5} width={1236} height={100} fill="none" stroke="#000" strokeWidth={1} />
        <rect x={2.5} y={695.5} width={1236} height={84} fill="none" stroke="#000" strokeWidth={1} />
        <text x={6} y={499.3} fontSize={9} fontFamily={FONT} fill="#000">AO 0.883</text>
        <text x={6} y={604.3} fontSize={9} fontFamily={FONT} fill="#000">AC -0.1752</text>
        <text x={6} y={707} fontSize={9} fontFamily={FONT} fill="#000">Gator(13,8,5) 0.392 0.000</text>
      </svg>
    </div>
  );
}
